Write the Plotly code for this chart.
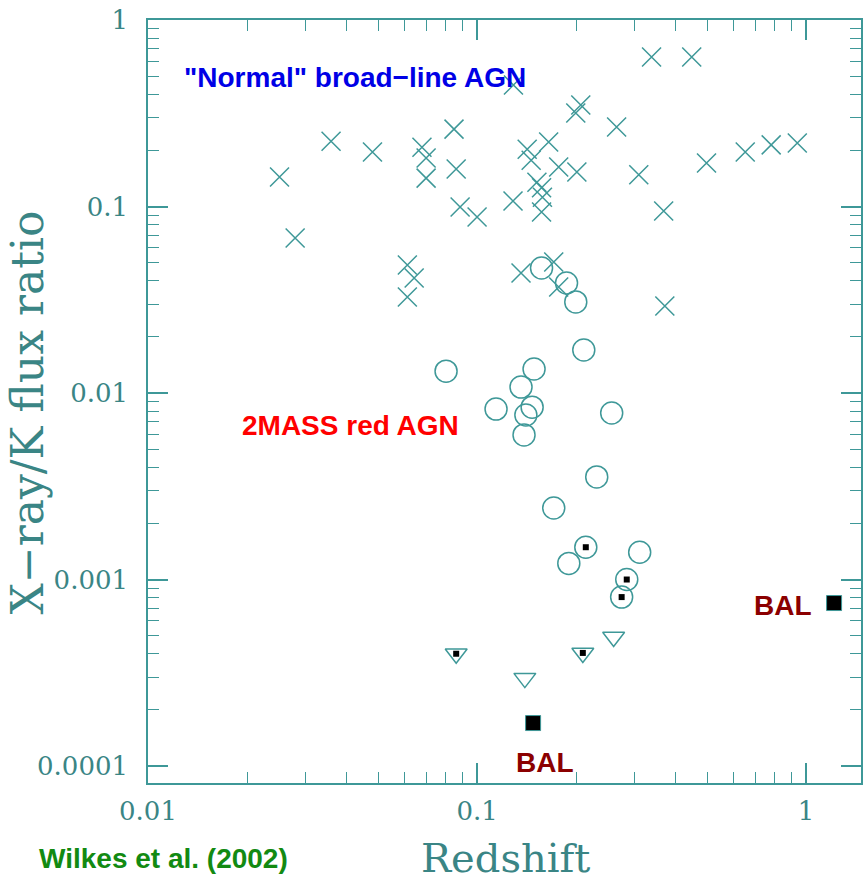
import plotly.graph_objects as go

# Normal broad-line AGN (crosses)
agn_z = [0.0251, 0.028, 0.036, 0.0481, 0.068, 0.070, 0.070, 0.0851, 0.0864, 0.0888,
         0.100, 0.1286, 0.129, 0.339, 0.449, 0.2066, 0.1995, 0.2655, 0.142, 0.146,
         0.165, 0.177, 0.201, 0.31, 0.498, 0.653, 0.783, 0.94, 0.152, 0.157,
         0.158, 0.157, 0.369, 0.136, 0.171, 0.177, 0.372, 0.0614, 0.0644, 0.0614]
agn_r = [0.144, 0.0678, 0.224, 0.196, 0.208, 0.182, 0.142, 0.26, 0.159, 0.0993,
         0.0879, 0.107, 0.448, 0.634, 0.634, 0.35, 0.317, 0.267, 0.203, 0.177,
         0.222, 0.163, 0.153, 0.148, 0.171, 0.196, 0.214, 0.219, 0.135, 0.126,
         0.112, 0.0935, 0.0946, 0.044, 0.0504, 0.037, 0.0293, 0.0486, 0.0414, 0.0327]

# 2MASS red AGN (circles)
red_z = [0.157, 0.187, 0.1995, 0.211, 0.0805, 0.149, 0.136, 0.147, 0.1142, 0.1407,
         0.1389, 0.2565, 0.231, 0.171, 0.214, 0.190, 0.312, 0.285, 0.275]
red_r = [0.0468, 0.0389, 0.0308, 0.017, 0.0131, 0.01345, 0.01076, 0.0084, 0.0082, 0.00762,
         0.00596, 0.00781, 0.00355, 0.00242, 0.00149, 0.00122, 0.0014, 0.001, 0.000805]

# Upper limits (triangles)
lim_z = [0.26, 0.2096, 0.1397, 0.0864]
lim_r = [0.000492, 0.000404, 0.000296, 0.0004]

# Small filled squares inside some symbols
sq_z = [0.214, 0.285, 0.275, 0.2096, 0.0864]
sq_r = [0.00149, 0.001, 0.000805, 0.000404, 0.0004]

# BAL quasars
bal_z = [0.148, 1.216]
bal_r = [0.00017, 0.000748]

# Tick positions and labels
x_decades = [0.01, 0.1, 1]
x_labels = ["0.01", "0.1", "1"]
y_decades = [0.0001, 0.001, 0.01, 0.1, 1]
y_labels = ["0.0001", "0.001", "0.01", "0.1", "1"]
minor_digits = [1, 2, 3, 4, 5, 6, 7, 8, 9]

x_all_ticks = [d * m for d in x_decades for m in minor_digits]
x_all_text = [lab if m == 1 else "" for lab in x_labels for m in minor_digits]
y_all_ticks = [d * m for d in y_decades[:-1] for m in minor_digits] + [1]
y_all_text = [lab if m == 1 else "" for lab in y_labels[:-1] for m in minor_digits] + ["1"]

X_RANGE = [-2, 0.1667]
Y_RANGE = [-4.091, 0]

TEAL = "#3e9898"
TEXT = "#3a8585"

fig = go.Figure()
fig.add_trace(go.Scatter(x=agn_z, y=agn_r, mode="markers",
                         marker=dict(symbol="x-thin-open", size=19, color=TEAL,
                                     line=dict(color=TEAL, width=1.5))))
fig.add_trace(go.Scatter(x=red_z, y=red_r, mode="markers",
                         marker=dict(symbol="circle-open", size=22, color=TEAL,
                                     line=dict(color=TEAL, width=1.5))))
fig.add_trace(go.Scatter(x=lim_z, y=lim_r, mode="markers",
                         marker=dict(symbol="triangle-down-open", size=19, color=TEAL,
                                     line=dict(color=TEAL, width=1.5))))
fig.add_trace(go.Scatter(x=sq_z, y=sq_r, mode="markers",
                         marker=dict(symbol="square", size=6, color="black",
                                     line=dict(width=0))))
fig.add_trace(go.Scatter(x=bal_z, y=bal_r, mode="markers",
                         marker=dict(symbol="square", size=15, color="black",
                                     line=dict(color=TEAL, width=1))))
# invisible trace carrying the long decade-tick overlay axes
fig.add_trace(go.Scatter(x=[0.1], y=[0.1], xaxis="x2", yaxis="y2", mode="markers",
                         marker=dict(size=1, color="rgba(0,0,0,0)"), hoverinfo="skip"))

axis_common = dict(
    type="log", showgrid=False, zeroline=False,
    showline=True, linecolor=TEAL, linewidth=1.5, mirror="ticks",
    tickmode="array", ticks="inside", ticklen=11, tickwidth=1.4, tickcolor=TEAL,
    tickfont=dict(family="DejaVu Serif", size=26, color=TEXT),
)
long_common = dict(
    type="log", showgrid=False, zeroline=False,
    showline=True, linecolor=TEAL, linewidth=1.5, mirror="ticks",
    tickmode="array", ticks="inside", ticklen=20, tickwidth=1.5, tickcolor=TEAL,
    showticklabels=False,
)

fig.update_layout(
    xaxis=dict(**axis_common, range=X_RANGE, tickvals=x_all_ticks, ticktext=x_all_text,
               ticklabelstandoff=4),
    yaxis=dict(**axis_common, range=Y_RANGE, tickvals=y_all_ticks, ticktext=y_all_text,
               ticklabelstandoff=13),
    xaxis2=dict(**long_common, range=X_RANGE, tickvals=x_decades,
                overlaying="x", anchor="y", side="bottom"),
    yaxis2=dict(**long_common, range=Y_RANGE, tickvals=y_decades,
                overlaying="y", anchor="x", side="left"),
)

annots = [
    dict(text='"Normal" broad\u2212line AGN', x=0.0476, y=0.925, xanchor="left", yanchor="middle",
         font=dict(family="Liberation Sans", size=28, color="#0000e6", weight="bold")),
    dict(text="2MASS red AGN", x=0.1287, y=0.469, xanchor="left", yanchor="middle",
         font=dict(family="Liberation Sans", size=28, color="#ff0000", weight="bold")),
    dict(text="BAL", x=0.5566, y=0.0275, xanchor="center", yanchor="middle",
         font=dict(family="Liberation Sans", size=28, color="#8b0000", weight="bold")),
    dict(text="BAL", x=0.891, y=0.232, xanchor="center", yanchor="middle",
         font=dict(family="Liberation Sans", size=28, color="#8b0000", weight="bold")),
    dict(text="Wilkes et al. (2002)", x=-0.1552, y=-0.0983, xanchor="left", yanchor="middle",
         font=dict(family="Liberation Sans", size=28, color="#128a12", weight="bold")),
    dict(text="Redshift", x=0.502, y=-0.0983, xanchor="center", yanchor="middle",
         font=dict(family="DejaVu Serif", size=40, color=TEXT)),
    dict(text="X\u2212ray/K flux ratio", x=-0.1692, y=0.486, xanchor="center", yanchor="middle",
         textangle=-90, font=dict(family="DejaVu Serif", size=44, color=TEXT)),
]
for a in annots:
    fig.add_annotation(xref="paper", yref="paper", showarrow=False, **a)

fig.update_layout(
    width=863, height=880,
    margin=dict(l=148, r=0, t=20, b=97),
    paper_bgcolor="white", plot_bgcolor="white",
    showlegend=False,
)

fig.write_html("out.html")
